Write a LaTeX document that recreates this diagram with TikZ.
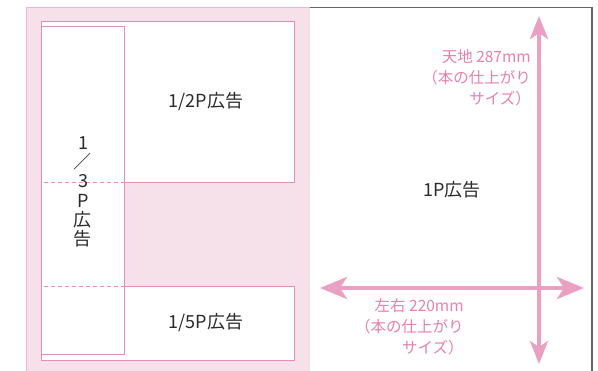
\documentclass[tikz,border=0pt]{standalone}
\usepackage{fontspec}
\setmainfont{Noto Sans CJK JP}
\usepackage{tikz}
\usetikzlibrary{arrows.meta}
\definecolor{pagepink}{HTML}{F6E0EA}
\definecolor{linepink}{HTML}{E78DB6}
\definecolor{edgepink}{HTML}{EDB9CF}
\definecolor{arrowpink}{HTML}{E9A0C2}
\definecolor{textpink}{HTML}{E880AD}
\definecolor{inkgray}{HTML}{2B2B2B}
\tikzset{
  adbox/.style={draw=linepink, fill=white, line width=0.9pt},
  adlabel/.style={font=\fontsize{18}{18}\selectfont, text=inkgray, inner sep=0pt},
  sizelabel/.style={font=\fontsize{15.5}{21}\selectfont, text=textpink, inner sep=0pt},
  sizearrow/.style={arrowpink, line width=4pt,
    {Stealth[length=27pt,width=22pt,inset=7pt]}-{Stealth[length=27pt,width=22pt,inset=7pt]}},
}
\begin{document}
\begin{tikzpicture}[x=1pt,y=-1pt]
\useasboundingbox (0,0) rectangle (598,371);
% left page (pink)
\fill[pagepink] (26,7) rectangle (309.5,371);
\draw[edgepink, line width=1.2pt] (26.5,371) -- (26.5,7.5) -- (309.5,7.5);
% right page
\draw[gray!80!black, line width=1.5pt] (309.5,7.5) -- (592,7.5) -- (592,371);

% ad spaces on the left page
\draw[adbox] (41,21) rectangle (294,182);
\draw[adbox] (41,286) rectangle (294,360);
\draw[adbox] (41,26) rectangle (124,354);
\draw[linepink, line width=0.6pt, dash pattern=on 4pt off 3pt] (44,182) -- (124,182);
\draw[linepink, line width=0.6pt, dash pattern=on 4pt off 3pt] (44,286) -- (124,286);

\node[adlabel] (half) at (206,102) {1/2P広告};
\node[adlabel] (fifth) at (206,323) {1/5P広告};
\node[adlabel, align=center, font=\fontsize{18}{19.3}\selectfont] (third) at (83,192)
  {1\\／\\3\\P\\広\\告};

% full page ad
\node[adlabel] (full) at (452,190) {1P広告};

% size arrows
\coordinate (vtop) at (539,16);
\coordinate (vbot) at (539,364);
\coordinate (hleft) at (320,288);
\coordinate (hright) at (584,288);
\draw[sizearrow, {Stealth[length=23pt,width=18pt,inset=6pt]}-{Stealth[length=23pt,width=18pt,inset=6pt]}] (vtop) -- (vbot);
\draw[sizearrow] (hleft) -- (hright);

\node[sizelabel, align=right, anchor=north east] (height) at (531,49)
  {天地 287mm\\（本の仕上がり\\サイズ）};
\node[sizelabel, align=right, anchor=north west] (width) at (355,298)
  {左右 220mm\\（本の仕上がり\\サイズ）};
\end{tikzpicture}
\end{document}
